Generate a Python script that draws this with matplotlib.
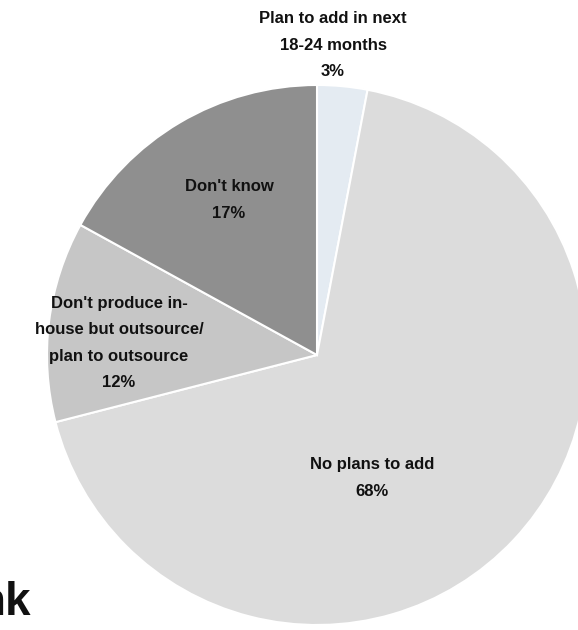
import matplotlib.pyplot as plt

labels = ["Plan to add in next\n18-24 months", "No plans to add",
          "Don't produce in-\nhouse but outsource/\nplan to outsource", "Don't know"]
shares = [3, 68, 12, 17]
colors = ["#e4ebf2", "#dcdcdc", "#c6c6c6", "#8f8f8f"]

# label anchor points (pixel-like coords, y up)
label_xy = [(333, 585), (372, 152), (119, 287), (229, 430)]

plt.rcParams['font.family'] = ['Liberation Sans', 'DejaVu Sans']

fig = plt.figure(figsize=(5.78, 6.30), dpi=100)
ax = fig.add_axes([0, 0, 1, 1])

ax.pie(shares, colors=colors, startangle=90, counterclock=False,
       center=(317, 275), radius=270,
       wedgeprops={'edgecolor': 'white', 'linewidth': 1.5})

for lab, val, (x, y) in zip(labels, shares, label_xy):
    ax.text(x, y, f"{lab}\n{val}%", ha='center', va='center',
            fontsize=12, fontweight='bold', color='#111111', linespacing=1.95)

# cut-off logo text in the corner
ax.text(31, 27, "nk", ha='right', va='center', fontsize=33,
        fontweight='bold', color='#111111')

ax.set_xlim(0, 578)
ax.set_ylim(0, 630)
ax.set_aspect('auto')
ax.axis('off')

plt.savefig("out.png", dpi=100)
